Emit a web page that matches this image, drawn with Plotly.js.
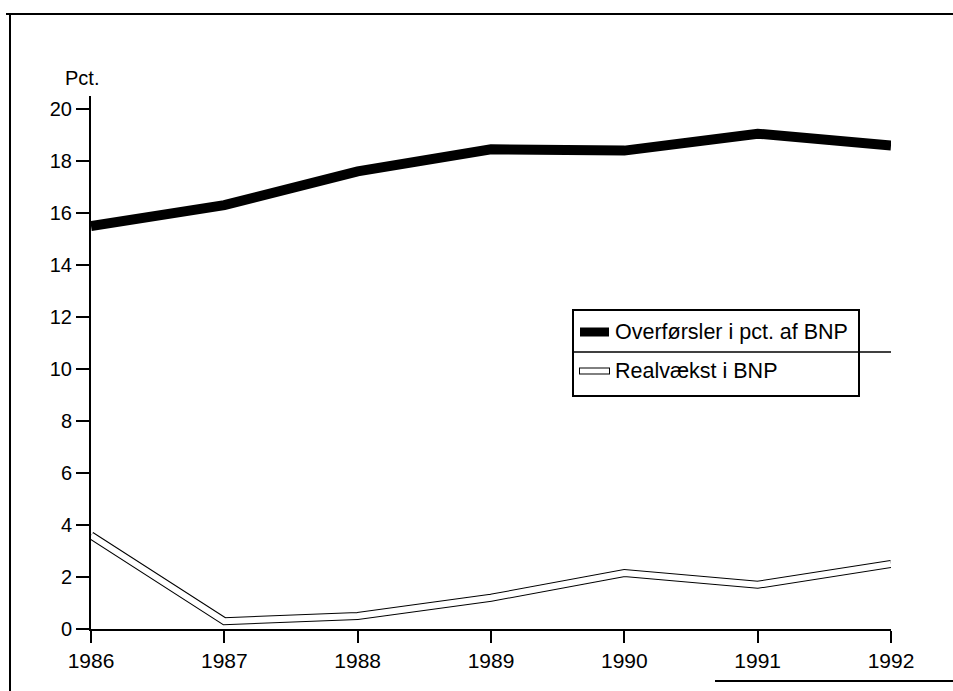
<!DOCTYPE html>
<html>
<head>
<meta charset="utf-8">
<script src="https://cdn.plot.ly/plotly-3.0.1.min.js"></script>
<style>html,body{margin:0;padding:0;background:#fff;}#chart{width:953px;height:691px;}</style>
</head>
<body>
<div id="chart"></div>
<script>
const years = [1986, 1987, 1988, 1989, 1990, 1991, 1992];
const overforsler = [15.5, 16.3, 17.6, 18.45, 18.4, 19.05, 18.6];
const realvaekst = [3.6, 0.3, 0.5, 1.2, 2.15, 1.7, 2.5];
const yTicks = [0, 2, 4, 6, 8, 10, 12, 14, 16, 18, 20];
const seriesNames = ["Overførsler i pct. af BNP", "Realvækst i BNP"];
const yUnit = "Pct.";

const W = 953, H = 691;
const L = 91, R = 62, T = 96, B = 62;
const pw = W - L - R, ph = H - T - B;
const px = x => (x - L) / pw;
const py = y => (H - B - y) / ph;

const FONT = "Liberation Sans, Arial, sans-serif";

const traces = [
  {x: years, y: overforsler, mode: "lines", name: seriesNames[0],
   line: {color: "#000", width: 10}, showlegend: false, hoverinfo: "skip"},
  {x: years, y: realvaekst, mode: "lines", name: seriesNames[1] + " outline",
   line: {color: "#000", width: 8}, showlegend: false, hoverinfo: "skip"},
  {x: years, y: realvaekst, mode: "lines", name: seriesNames[1],
   line: {color: "#fff", width: 6}, showlegend: false, hoverinfo: "skip"}
];

const lx0 = 573, lx1 = 859, ly0 = 310, ly1 = 396, ldiv = 352;
const shapes = [
  // scan frame
  {type: "line", xref: "paper", yref: "paper", x0: px(6), x1: px(953), y0: py(14), y1: py(14), line: {color: "#000", width: 2}},
  {type: "line", xref: "paper", yref: "paper", x0: px(10), x1: px(10), y0: py(14), y1: py(691), line: {color: "#000", width: 2}},
  {type: "line", xref: "paper", yref: "paper", x0: px(715), x1: px(953), y0: py(681), y1: py(681), line: {color: "#000", width: 2}},
  // legend box
  {type: "rect", xref: "paper", yref: "paper", x0: px(lx0), x1: px(lx1), y0: py(ly1), y1: py(ly0), line: {color: "#000", width: 2}, fillcolor: "#fff", layer: "above"},
  {type: "line", xref: "paper", yref: "paper", x0: px(lx0), x1: px(lx1 + 32), y0: py(ldiv), y1: py(ldiv), line: {color: "#000", width: 1.5}, layer: "above"},
  {type: "line", xref: "paper", yref: "paper", x0: px(580), x1: px(609), y0: py(332), y1: py(332), line: {color: "#000", width: 9}, layer: "above"},
  {type: "line", xref: "paper", yref: "paper", x0: px(579), x1: px(610), y0: py(371), y1: py(371), line: {color: "#000", width: 7}, layer: "above"},
  {type: "line", xref: "paper", yref: "paper", x0: px(580), x1: px(609), y0: py(371), y1: py(371), line: {color: "#fff", width: 5}, layer: "above"}
];

const annotations = [
  {text: yUnit, xref: "paper", yref: "paper", x: px(63), y: py(78), xanchor: "left", yanchor: "middle", showarrow: false, font: {family: FONT, size: 20, color: "#000"}},
  {text: seriesNames[0], xref: "paper", yref: "paper", x: px(613), y: py(332), xanchor: "left", yanchor: "middle", showarrow: false, font: {family: FONT, size: 21.5, color: "#000"}},
  {text: seriesNames[1], xref: "paper", yref: "paper", x: px(613), y: py(371), xanchor: "left", yanchor: "middle", showarrow: false, font: {family: FONT, size: 21.5, color: "#000"}}
];

const layout = {
  width: W, height: H,
  margin: {l: L, r: R, t: T, b: B, pad: 0},
  paper_bgcolor: "#fff", plot_bgcolor: "#fff",
  showlegend: false,
  font: {family: FONT, color: "#000"},
  xaxis: {
    range: [1986, 1992], tickvals: years, ticktext: years.map(String),
    showgrid: false, zeroline: false, showline: true, linecolor: "#000", linewidth: 2,
    ticks: "outside", ticklen: 12, tickwidth: 2, tickcolor: "#000",
    tickfont: {family: FONT, size: 21, color: "#000"}, fixedrange: true
  },
  yaxis: {
    range: [0, 20.5], tickvals: yTicks, ticktext: yTicks.map(String),
    showgrid: false, zeroline: false, showline: true, linecolor: "#000", linewidth: 2,
    ticks: "outside", ticklen: 13, tickwidth: 2, tickcolor: "#000",
    tickfont: {family: FONT, size: 20, color: "#000"}, fixedrange: true
  },
  shapes: shapes,
  annotations: annotations
};

Plotly.newPlot("chart", traces, layout, {displayModeBar: false, staticPlot: true});
</script>
</body>
</html>
